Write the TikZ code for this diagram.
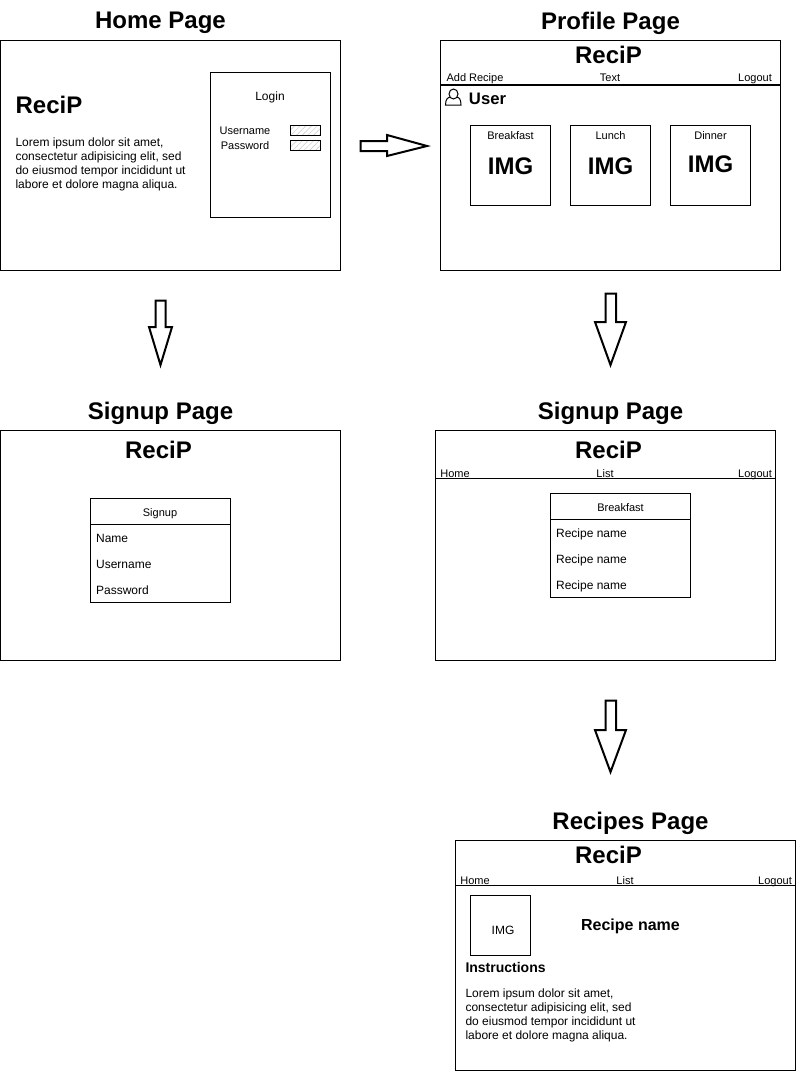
\documentclass[tikz,border=0pt]{standalone}
\usepackage{fontspec}
\setmainfont{Liberation Sans}
\usetikzlibrary{patterns.meta}
\begin{document}
\begin{tikzpicture}[x=0.75pt, y=-0.75pt, line width=0.75pt,
  pagebox/.style={draw, minimum width=255pt, minimum height=172.5pt, inner sep=0pt},
  imgbox/.style={draw, minimum width=60pt, minimum height=60pt, inner sep=0pt},
  listbox/.style={draw, minimum width=105pt, minimum height=78pt, inner sep=0pt},
  fieldbox/.style={draw, pattern={Lines[angle=45, distance=3pt, line width=0.35pt, xshift=1pt]}, pattern color=black!22, minimum width=22.5pt, minimum height=7.5pt, inner sep=0pt},
  blockarrow/.style={draw, line width=1.5pt, fill=white, miter limit=10},
  pagetitle/.style={font=\fontsize{18pt}{20pt}\selectfont\bfseries, inner sep=0pt},
  brand/.style={font=\fontsize{18pt}{20pt}\selectfont\bfseries, inner sep=0pt},
  navtext/.style={font=\fontsize{8.25pt}{10pt}\selectfont, inner sep=0pt, anchor=base},
  smalltext/.style={font=\fontsize{8.25pt}{10pt}\selectfont, inner sep=0pt, anchor=base},
  rowtext/.style={font=\fontsize{9pt}{10pt}\selectfont, inner sep=0pt, anchor=base west},
  lorem/.style={font=\fontsize{9pt}{10.5pt}\selectfont, inner sep=0pt, anchor=north west, align=left},
  imgtext/.style={font=\fontsize{18pt}{20pt}\selectfont\bfseries, inner sep=0pt}]
\useasboundingbox (0,0) rectangle (796,1081);
\node[pagetitle] (T_home) at (160.5,23.2) {Home Page};
\node[pagebox] (P_home) at (170.5,155.5) {};
\node[brand] (B_home) at (49,105) {ReciP};
\node[lorem] (L_home) at (15,137) {Lorem ipsum dolor sit amet,\\consectetur adipisicing elit, sed\\do eiusmod tempor incididunt ut\\labore et dolore magna aliqua.};
\node[draw, minimum width=90pt, minimum height=108.75pt, inner sep=0pt] (P_login) at (270.5,145) {};
\node[rowtext, anchor=base] (L_login) at (270,100) {Login};
\node[navtext] (L_user) at (245,134) {Username};
\node[navtext] (L_pass) at (245,149) {Password};
\node[fieldbox] (F_user) at (305.5,130.5) {};
\node[fieldbox] (F_pass) at (305.5,145.5) {};
\draw[blockarrow] (360.5,141) -- (387,141) -- (387,135) -- (427,146) -- (387,156) -- (387,151) -- (360.5,151) -- cycle;
\node[pagetitle] (T_profile) at (610.5,23.2) {Profile Page};
\node[pagebox] (P_profile) at (610.5,155.5) {};
\node[brand] (B_profile) at (608.5,55) {ReciP};
\node[navtext] (N_add) at (475,81) {Add Recipe};
\node[navtext] (N_text) at (610,81) {Text};
\node[navtext] (N_logout) at (755,81) {Logout};
\coordinate (C_profile_l) at (440.5,85.5);
\coordinate (C_profile_r) at (780.5,85.5);
\draw[line width=1.5pt] (C_profile_l) -- (C_profile_r);
\draw (445.5,105) .. controls (445.5,99) and (448,97) .. (451,97) -- (456,97) .. controls (459,97) and (461,99) .. (461,105) -- cycle;
\draw[fill=white] (453.5,94) ellipse (4.5 and 5);
\node[font=\fontsize{12.5pt}{14pt}\selectfont\bfseries, inner sep=0pt] (L_profile_user) at (487.5,98.5) {User};
\node[imgbox] (I_break) at (510.5,165.5) {};
\node[imgbox] (I_lunch) at (610.5,165.5) {};
\node[imgbox] (I_dinner) at (710.5,165.5) {};
\node[smalltext] (L_break) at (510.5,139) {Breakfast};
\node[smalltext] (L_lunch) at (610.5,139) {Lunch};
\node[smalltext] (L_dinner) at (710.5,139) {Dinner};
\node[imgtext] (M_break) at (510.5,166) {IMG};
\node[imgtext] (M_lunch) at (610.5,166) {IMG};
\node[imgtext] (M_dinner) at (710.5,164) {IMG};
\draw[blockarrow] (155.5,300.5) -- (165.5,300.5) -- (165.5,327) -- (172,327) -- (160.5,365) -- (149,327) -- (155.5,327) -- cycle;
\draw[blockarrow] (605.5,293.5) -- (616,293.5) -- (616,322) -- (626,322) -- (610.5,365) -- (595,322) -- (605.5,322) -- cycle;
\node[pagetitle] (T_signup) at (160.5,413.2) {Signup Page};
\node[pagebox] (P_signup) at (170.5,545.5) {};
\node[brand] (B_signup) at (158.5,450) {ReciP};
\node[listbox] (S_list) at (160.5,550.5) {};
\coordinate (C_signup_l) at (90.5,524.5);
\coordinate (C_signup_r) at (230.5,524.5);
\draw (C_signup_l) -- (C_signup_r);
\node[smalltext] (S_head) at (160,516) {Signup};
\node[rowtext] (S_name) at (95.6,542) {Name};
\node[rowtext] (S_user) at (95.6,568) {Username};
\node[rowtext] (S_pass) at (95.6,594) {Password};
\node[pagetitle] (T_list) at (610.5,413.2) {Signup Page};
\node[pagebox] (P_list) at (605.5,545.5) {};
\node[brand] (B_list) at (608.5,450) {ReciP};
\node[navtext] (N_list_home) at (455,477) {Home};
\node[navtext] (N_list_list) at (605,477) {List};
\node[navtext] (N_list_logout) at (755,477) {Logout};
\coordinate (C_list_l) at (435.5,478.5);
\coordinate (C_list_r) at (775.5,478.5);
\draw (C_list_l) -- (C_list_r);
\node[listbox] (R_list) at (620.5,545.5) {};
\coordinate (C_rows_l) at (550.5,519.5);
\coordinate (C_rows_r) at (690.5,519.5);
\draw (C_rows_l) -- (C_rows_r);
\node[smalltext] (R_head) at (620.5,511) {Breakfast};
\node[rowtext] (R_one) at (555.6,537) {Recipe name};
\node[rowtext] (R_two) at (555.6,563) {Recipe name};
\node[rowtext] (R_three) at (555.6,589) {Recipe name};
\draw[blockarrow] (605.5,700.5) -- (616,700.5) -- (616,730) -- (626,730) -- (610.5,772) -- (595,730) -- (605.5,730) -- cycle;
\node[pagetitle] (T_recipe) at (630.5,823.2) {Recipes Page};
\node[pagebox] (P_recipe) at (625.5,955.5) {};
\node[brand] (B_recipe) at (608.5,855) {ReciP};
\node[navtext] (N_rec_home) at (475,884) {Home};
\node[navtext] (N_rec_list) at (625,884) {List};
\node[navtext] (N_rec_logout) at (775,884) {Logout};
\coordinate (C_rec_l) at (455.5,885.5);
\coordinate (C_rec_r) at (795.5,885.5);
\draw (C_rec_l) -- (C_rec_r);
\node[draw, minimum width=45pt, minimum height=45pt, inner sep=0pt] (I_recipe) at (500.5,925.5) {};
\node[rowtext, anchor=base] (M_recipe) at (503,934.5) {IMG};
\node[font=\fontsize{12pt}{14pt}\selectfont\bfseries, inner sep=0pt] (L_recipe) at (630.5,926) {Recipe name};
\node[font=\fontsize{10.5pt}{12pt}\selectfont\bfseries, inner sep=0pt, anchor=west] (L_instr) at (465,967.5) {Instructions};
\node[lorem] (L_steps) at (465,988) {Lorem ipsum dolor sit amet,\\consectetur adipisicing elit, sed\\do eiusmod tempor incididunt ut\\labore et dolore magna aliqua.};
\end{tikzpicture}
\end{document}
